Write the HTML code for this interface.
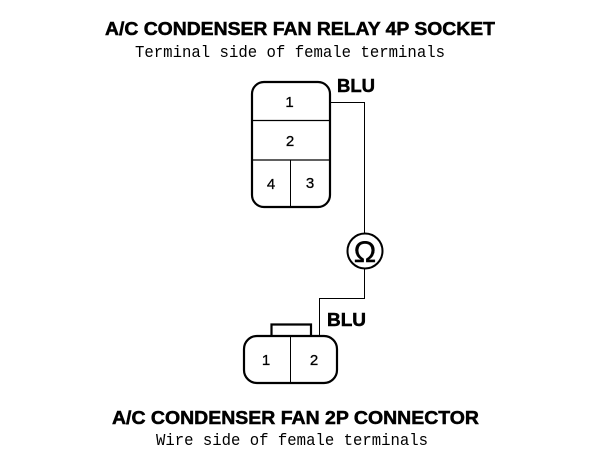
<!DOCTYPE html>
<html>
<head>
<meta charset="utf-8">
<style>
html,body{margin:0;padding:0;background:#fff;width:608px;height:472px;overflow:hidden}
svg{display:block}
.b{font-family:"Liberation Sans",sans-serif;font-weight:bold;fill:#000}
.m{font-family:"Liberation Mono",monospace;fill:#000}
.n{font-family:"Liberation Sans",sans-serif;font-size:15px;fill:#000;stroke:#000;stroke-width:.3;text-anchor:middle}
</style>
</head>
<body>
<svg width="608" height="472" viewBox="0 0 608 472" xmlns="http://www.w3.org/2000/svg">
<text class="b" x="105" y="35" font-size="18" stroke="#000" stroke-width=".5" textLength="390" lengthAdjust="spacingAndGlyphs">A/C CONDENSER FAN RELAY 4P SOCKET</text>
<text class="m" x="135" y="57" font-size="17" textLength="310" lengthAdjust="spacingAndGlyphs">Terminal side of female terminals</text>

<rect x="252" y="82" width="78" height="125" rx="12" fill="#fff" stroke="#000" stroke-width="2.200"/>
<path d="M252 120.500H330M252 160H330" stroke="#000" stroke-width="1.300" fill="none"/>
<path d="M290.500 160V207" stroke="#000" stroke-width="1" fill="none"/>
<text class="n" x="289.500" y="107">1</text>
<text class="n" x="290" y="146">2</text>
<text class="n" x="271" y="189">4</text>
<text class="n" x="310" y="188">3</text>

<path d="M331 102.500H364.500V233M364.500 269V298.500H319.500V335" stroke="#000" stroke-width="1" fill="none"/>
<text class="b" x="337" y="92" font-size="18" stroke="#000" stroke-width=".5" textLength="38" lengthAdjust="spacingAndGlyphs">BLU</text>

<circle cx="365" cy="251" r="17.500" fill="#fff" stroke="#000" stroke-width="2"/>
<text x="365" y="262" font-family="Liberation Sans,sans-serif" font-size="30" text-anchor="middle" fill="#000" stroke="#000" stroke-width=".4">Ω</text>

<text class="b" x="327" y="326" font-size="18" stroke="#000" stroke-width=".5" textLength="39" lengthAdjust="spacingAndGlyphs">BLU</text>

<path d="M271.500 336V324.500H311V336" stroke="#000" stroke-width="2.200" fill="none"/>
<rect x="244" y="336" width="93" height="47" rx="13" fill="#fff" stroke="#000" stroke-width="2.200"/>
<path d="M290.500 336V383" stroke="#000" stroke-width="1" fill="none"/>
<text class="n" x="266" y="365">1</text>
<text class="n" x="314" y="365">2</text>

<text class="b" x="112" y="424" font-size="18" stroke="#000" stroke-width=".5" textLength="367" lengthAdjust="spacingAndGlyphs">A/C CONDENSER FAN 2P CONNECTOR</text>
<text class="m" x="156" y="445" font-size="17" textLength="272" lengthAdjust="spacingAndGlyphs">Wire side of female terminals</text>
</svg>
</body>
</html>
